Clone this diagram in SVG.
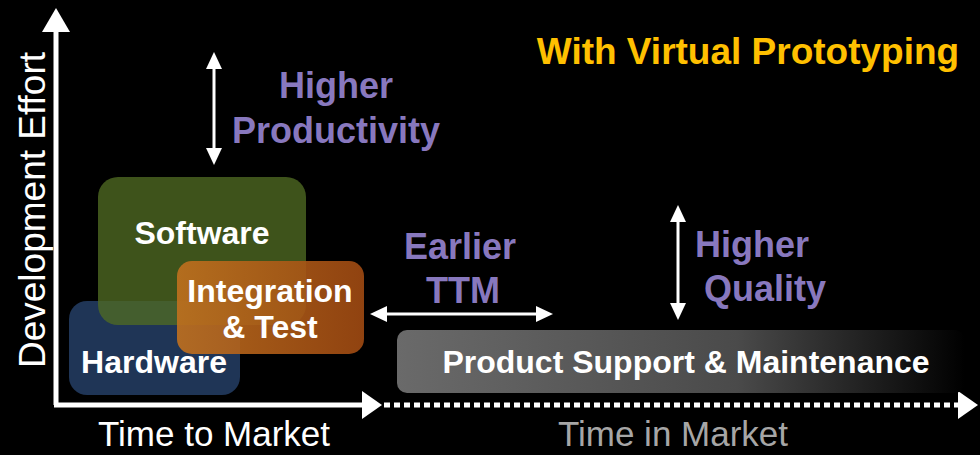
<svg xmlns="http://www.w3.org/2000/svg" width="980" height="455" viewBox="0 0 980 455">
<defs>
<style>
.t{font-family:"Liberation Sans",Arial,sans-serif;fill:#fff}
.b{font-weight:bold}
.p{font-family:"Liberation Sans",Arial,sans-serif;font-weight:bold;fill:#8878BE;font-size:36px;text-anchor:middle}
.w{stroke:#fff;stroke-width:3;fill:none}
.ah{fill:#fff}
</style>
<linearGradient id="gP" x1="0" y1="0" x2="1" y2="0">
<stop offset="0" stop-color="#6a6a6a"/>
<stop offset="0.6" stop-color="#4a4a4a"/>
<stop offset="1" stop-color="#000"/>
</linearGradient>
<linearGradient id="gI" x1="0" y1="0" x2="1" y2="0">
<stop offset="0" stop-color="#C0701E"/>
<stop offset="1" stop-color="#A04A12"/>
</linearGradient>
</defs>
<rect width="980" height="455" fill="#000"/>

<g id="axes">
<line x1="56" y1="28" x2="56" y2="405" stroke="#fff" stroke-width="5"/>
<polygon points="42,32 56,8 70,32" fill="#fff"/>
<line x1="54" y1="405" x2="364" y2="405" stroke="#fff" stroke-width="5"/>
<polygon points="362,391 382,405 362,419" fill="#fff"/>
<line x1="384" y1="405" x2="958" y2="405" stroke="#fff" stroke-width="5" stroke-dasharray="6,4"/>
<polygon points="958,391 978,405 958,419" fill="#fff"/>
</g>

<g id="labels">
<text class="t" font-size="37" transform="translate(45,210) rotate(-90)" text-anchor="middle">Development Effort</text>
<text class="t" x="214" y="446" font-size="35" text-anchor="middle">Time to Market</text>
<text class="t" x="673" y="446" font-size="35" text-anchor="middle" style="fill:#a6a6a6">Time in Market</text>
<text class="t b" x="748" y="64" font-size="37" text-anchor="middle" style="fill:#FFC000">With Virtual Prototyping</text>
</g>

<g id="hardware">
<rect x="69" y="301" width="171" height="94" rx="18" fill="#1F3556"/>
<text class="t b" x="154" y="373" font-size="32" text-anchor="middle">Hardware</text>
</g>
<g id="software">
<rect x="98" y="177" width="208" height="148" rx="20" fill="#4F6A22" fill-opacity="0.78"/>
<text class="t b" x="202" y="244" font-size="32" text-anchor="middle">Software</text>
</g>
<g id="integration">
<rect x="177" y="261" width="187" height="93" rx="15" fill="url(#gI)" fill-opacity="0.9"/>
<text class="t b" x="270" y="302" font-size="32" text-anchor="middle">Integration</text>
<text class="t b" x="270" y="338" font-size="32" text-anchor="middle">&amp; Test</text>
</g>
<g id="support">
<rect x="397" y="330" width="568" height="63" rx="10" fill="url(#gP)"/>
<text class="t b" x="686" y="373" font-size="32" text-anchor="middle">Product Support &amp; Maintenance</text>
</g>

<g id="productivity">
<text class="p" x="336" y="98">Higher</text>
<text class="p" x="336" y="143">Productivity</text>
</g>
<g id="ttm">
<text class="p" x="460" y="259">Earlier</text>
<text class="p" x="463" y="303">TTM</text>
</g>
<g id="quality">
<text class="p" x="752" y="257">Higher</text>
<text class="p" x="765" y="301">Quality</text>
</g>

<g id="connectors">
<line class="w" x1="214" y1="66" x2="214" y2="151"/>
<polygon class="ah" points="206,69 214,52 222,69"/>
<polygon class="ah" points="206,148 214,165 222,148"/>
<line class="w" x1="384" y1="314" x2="539" y2="314"/>
<polygon class="ah" points="387,306 370,314 387,322"/>
<polygon class="ah" points="536,306 553,314 536,322"/>
<line class="w" x1="678" y1="219" x2="678" y2="306"/>
<polygon class="ah" points="670,222 678,205 686,222"/>
<polygon class="ah" points="670,303 678,320 686,303"/>
</g>
</svg>
